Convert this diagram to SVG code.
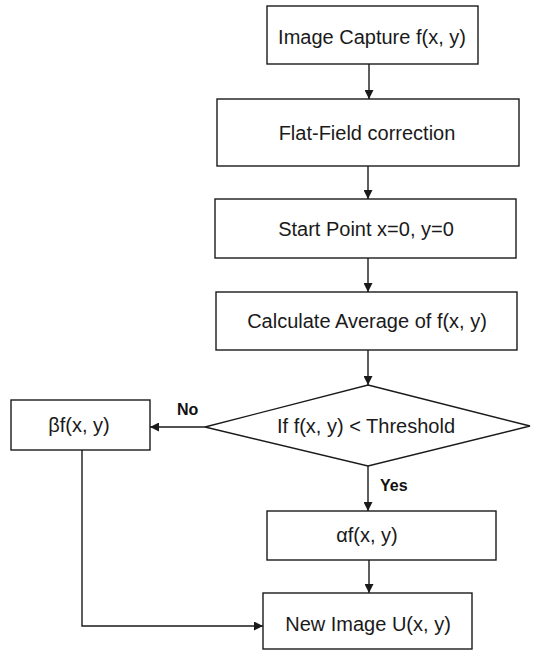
<svg xmlns="http://www.w3.org/2000/svg" width="536" height="651" viewBox="0 0 536 651">
  <style>
    .box { fill: #ffffff; stroke: #1a1a1a; stroke-width: 1.4; }
    .lbl { font-family: "Liberation Sans", Arial, sans-serif; font-size: 20px; fill: #1a1a1a; text-anchor: middle; }
    .tag { font-family: "Liberation Sans", Arial, sans-serif; font-size: 16px; font-weight: bold; fill: #111111; }
    .wire { fill: none; stroke: #1a1a1a; stroke-width: 1.4; }
  </style>
  <defs>
    <marker id="head" viewBox="0 0 10 10" refX="10" refY="5" markerWidth="10" markerHeight="9" markerUnits="userSpaceOnUse" orient="auto">
      <path d="M0,0 L10,5 L0,10 Z" fill="#1a1a1a"/>
    </marker>
  </defs>
  <rect width="536" height="651" fill="#ffffff"/>

  <!-- connectors -->
  <g id="connectors">
    <path class="wire" d="M369,64 V99" marker-end="url(#head)"/>
    <path class="wire" d="M368,166 V199" marker-end="url(#head)"/>
    <path class="wire" d="M368,258 V292" marker-end="url(#head)"/>
    <path class="wire" d="M368,350 V385" marker-end="url(#head)"/>
    <path class="wire" d="M205,427 H150" marker-end="url(#head)"/>
    <path class="wire" d="M368,466 V511" marker-end="url(#head)"/>
    <path class="wire" d="M369,560 V593" marker-end="url(#head)"/>
    <path class="wire" d="M82,450 V626 H263" marker-end="url(#head)"/>
    <text class="tag" x="177" y="415">No</text>
    <text class="tag" x="380" y="491">Yes</text>
  </g>

  <g id="capture">
    <rect class="box" x="267" y="6" width="211" height="58"/>
    <text class="lbl" x="372" y="44">Image Capture f(x, y)</text>
  </g>

  <g id="flatfield">
    <rect class="box" x="217" y="99" width="302" height="67"/>
    <text class="lbl" x="367" y="140">Flat-Field correction</text>
  </g>

  <g id="start">
    <rect class="box" x="215" y="199" width="301" height="59"/>
    <text class="lbl" x="366" y="236">Start Point x=0, y=0</text>
  </g>

  <g id="average">
    <rect class="box" x="216" y="292" width="301" height="58"/>
    <text class="lbl" x="367" y="328">Calculate Average of f(x, y)</text>
  </g>

  <g id="decision">
    <polygon class="box" points="368,385 530,426 368,466 205,427"/>
    <text class="lbl" x="366" y="433">If f(x, y) &lt; Threshold</text>
  </g>

  <g id="beta">
    <rect class="box" x="11" y="400" width="139" height="50"/>
    <text class="lbl" x="79" y="432">βf(x, y)</text>
  </g>

  <g id="alpha">
    <rect class="box" x="267" y="511" width="229" height="49"/>
    <text class="lbl" x="367" y="542">αf(x, y)</text>
  </g>

  <g id="newimage">
    <rect class="box" x="263" y="593" width="209" height="56"/>
    <text class="lbl" x="368" y="631">New Image U(x, y)</text>
  </g>
</svg>
